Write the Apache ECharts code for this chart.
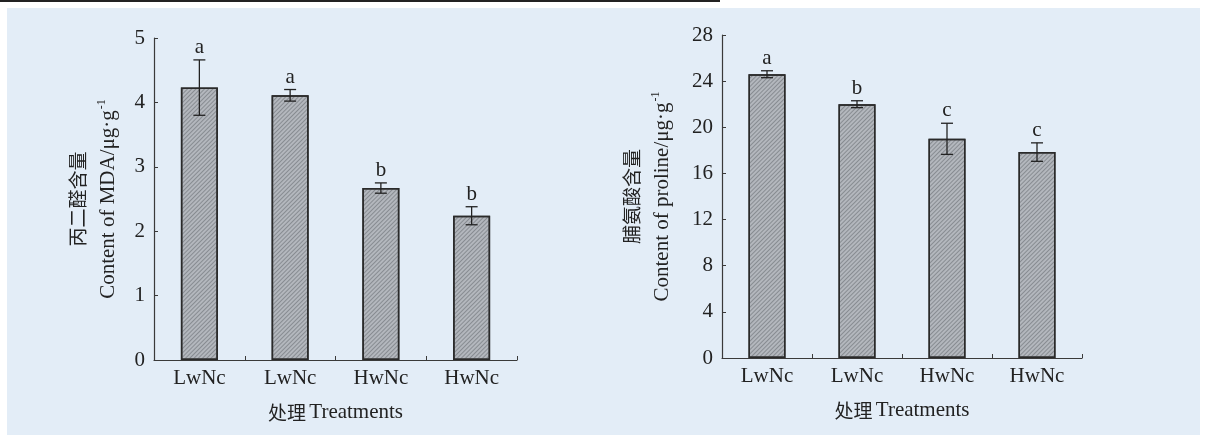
<!DOCTYPE html>
<html>
<head>
<meta charset="utf-8">
<script src="https://cdn.jsdelivr.net/npm/echarts@6/dist/echarts.min.js"></script>
<style>
  html, body { margin: 0; padding: 0; background: #fff; }
  #bg { position: absolute; left: 7px; top: 8px; width: 1193px; height: 427px; background: #e3edf7; }
  #topline { position: absolute; left: 0; top: 0; width: 720px; height: 2px; background: #222; }
  #chart { position: absolute; left: 0; top: 0; width: 1207px; height: 435px; }
</style>
</head>
<body>
<div id="bg"></div>
<div id="topline"></div>
<div id="chart"></div>
<script>
  // 处理
  const categories = ['LwNc', 'LwNc', 'HwNc', 'HwNc'];

  // MDA content, μg·g-1
  const mdaMean = [4.23, 4.11, 2.67, 2.24];
  const mdaErr = [0.43, 0.09, 0.08, 0.14];
  const mdaLetters = ['a', 'a', 'b', 'b'];
  const mdaTicks = { min: 0, max: 5, interval: 1 };

  // proline content, μg·g-1
  const proMean = [24.6, 22.0, 19.0, 17.85];
  const proErr = [0.3, 0.3, 1.35, 0.8];
  const proLetters = ['a', 'b', 'c', 'c'];
  const proTicks = { min: 0, max: 28, interval: 4 };

  const serif = "'Liberation Serif', 'Times New Roman', 'Noto Sans CJK SC', serif";
  const axisColor = '#3a3a3a';

  const myChart = echarts.init(document.getElementById('chart'), null, { renderer: 'canvas' });

  function errData(mean, err, letters) {
    return mean.map((m, i) => [i, m, err[i], letters[i]]);
  }

  function renderErr(params, api) {
    const i = api.value(0);
    const m = api.value(1);
    const e = api.value(2);
    const top = api.coord([i, m + e]);
    const bot = api.coord([i, m - e]);
    const cap = 6;
    const st = { stroke: '#222', lineWidth: 1.3 };
    return {
      type: 'group',
      children: [
        { type: 'line', shape: { x1: top[0], y1: top[1], x2: bot[0], y2: bot[1] }, style: st },
        { type: 'line', shape: { x1: top[0] - cap, y1: top[1], x2: top[0] + cap, y2: top[1] }, style: st },
        { type: 'line', shape: { x1: bot[0] - cap, y1: bot[1], x2: bot[0] + cap, y2: bot[1] }, style: st },
        {
          type: 'text',
          x: top[0],
          y: top[1] - 2,
          style: {
            text: api.value(3),
            align: 'center',
            verticalAlign: 'bottom',
            fontFamily: serif,
            fontSize: 21,
            fill: '#222',
          },
        },
      ],
    };
  }

  const barStyle = {
    color: '#b3b7bd',
    borderColor: '#2a2a2a',
    borderWidth: 1.5,
    decal: {
      symbol: 'rect',
      symbolSize: 1,
      dashArrayX: [1, 0],
      dashArrayY: [1, 1.5],
      rotation: -Math.PI / 4,
      color: 'rgba(70,74,80,0.4)',
    },
  };

  function xAxisOf(idx) {
    return {
      type: 'category',
      gridIndex: idx,
      data: categories,
      name: '{cn|处理} {en|Treatments}',
      nameLocation: 'middle',
      nameGap: 42,
      nameTextStyle: {
        rich: {
          cn: { fontFamily: 'Noto Sans CJK SC', fontSize: 19, color: '#222' },
          en: { fontFamily: serif, fontSize: 21, color: '#222' },
        },
      },
      axisLine: { lineStyle: { color: axisColor, width: 1.2 } },
      axisTick: { show: true, inside: true, length: 4, alignWithLabel: false, lineStyle: { color: axisColor } },
      axisLabel: { fontFamily: serif, fontSize: 21, color: '#222', margin: 8 },
      splitLine: { show: false },
    };
  }

  function yAxisOf(idx, ticks, enName, gap) {
    return {
      type: 'value',
      gridIndex: idx,
      min: ticks.min,
      max: ticks.max,
      interval: ticks.interval,
      name: enName,
      nameLocation: 'middle',
      nameGap: gap,
      nameRotate: 90,
      nameTextStyle: {
        lineHeight: 30,
        rich: {
          cn: { fontFamily: 'Noto Sans CJK SC', fontSize: 19, color: '#222', lineHeight: 30 },
          en: { fontFamily: serif, fontSize: 21, color: '#222', lineHeight: 30 },
          sup: { fontFamily: serif, fontSize: 12, color: '#222', verticalAlign: 'top', lineHeight: 14, padding: [3, 0, 0, 1] },
        },
      },
      axisLine: { show: true, lineStyle: { color: axisColor, width: 1.2 } },
      axisTick: { show: true, inside: true, length: 4, lineStyle: { color: axisColor } },
      axisLabel: { fontFamily: serif, fontSize: 21, color: '#222', margin: 9 },
      splitLine: { show: false },
    };
  }

  const option = {
    animation: false,
    backgroundColor: 'transparent',
    grid: [
      { left: 154, top: 38, right: 690, bottom: 75 },
      { left: 722, top: 35, right: 125, bottom: 77 },
    ],
    xAxis: [xAxisOf(0), xAxisOf(1)],
    yAxis: [
      yAxisOf(0, mdaTicks, '{cn|丙二醛含量}\n{en|Content of MDA/μg·g}{sup|-1}', 31),
      yAxisOf(1, proTicks, '{cn|脯氨酸含量}\n{en|Content of proline/μg·g}{sup|-1}', 45),
    ],
    series: [
      {
        name: 'MDA',
        type: 'bar',
        xAxisIndex: 0,
        yAxisIndex: 0,
        barWidth: 37,
        data: mdaMean,
        itemStyle: barStyle,
        z: 2,
      },
      {
        name: 'MDA err',
        type: 'custom',
        xAxisIndex: 0,
        yAxisIndex: 0,
        data: errData(mdaMean, mdaErr, mdaLetters),
        renderItem: renderErr,
        z: 5,
      },
      {
        name: 'proline',
        type: 'bar',
        xAxisIndex: 1,
        yAxisIndex: 1,
        barWidth: 37,
        data: proMean,
        itemStyle: barStyle,
        z: 2,
      },
      {
        name: 'proline err',
        type: 'custom',
        xAxisIndex: 1,
        yAxisIndex: 1,
        data: errData(proMean, proErr, proLetters),
        renderItem: renderErr,
        z: 5,
      },
    ],
  };

  myChart.setOption(option);
</script>
</body>
</html>
